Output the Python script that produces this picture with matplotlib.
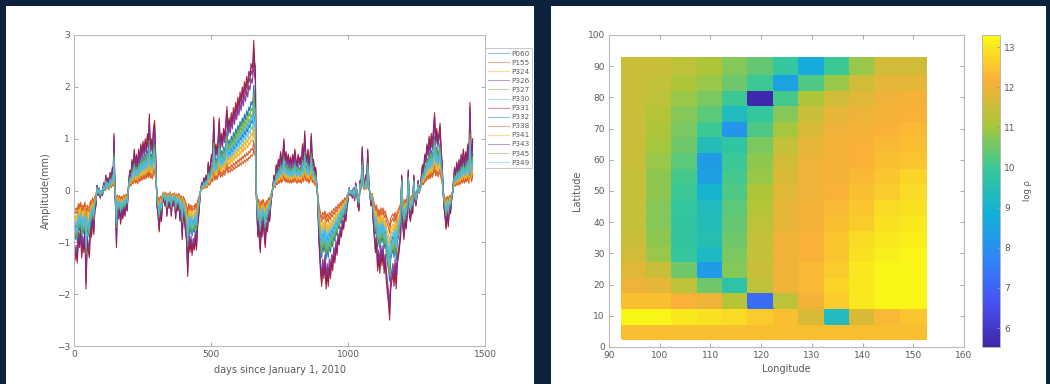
import numpy as np
import matplotlib
matplotlib.use("Agg")
import matplotlib.pyplot as plt
from matplotlib.colors import LinearSegmentedColormap
from matplotlib.patches import Rectangle

# ---------------- data: left panel ----------------
stations = ["P060", "P155", "P324", "P326", "P327", "P330", "P331",
            "P332", "P338", "P341", "P343", "P345", "P349"]
# relative amplitude of each station w.r.t. the largest one (read from the fan spread)
station_gain = [0.55, 0.28, 0.45, 0.95, 0.60, 0.50, 1.00,
                0.70, 0.33, 0.40, 0.88, 0.65, 0.58]

days = [0, 4, 8, 12, 16, 20, 24, 28, 32, 36, 40, 44, 48, 52, 56, 60, 64, 68, 72, 76, 80,
        84, 88, 92, 96, 100, 104, 108, 112, 116, 120, 124, 128, 132, 136, 140, 143, 146, 149,
        152, 155, 158, 162, 166, 170, 174, 178, 182, 186, 190, 194, 197,
        200, 204, 208, 212, 216, 220, 224, 228, 232, 236, 240, 244, 248, 252, 256, 260, 264,
        268, 272, 275, 278, 282, 286, 290, 294, 297, 300,
        303, 307, 311, 315, 319, 323, 327, 331, 335, 339, 343, 347, 351, 355, 359, 363, 367,
        371, 375, 379, 383, 387, 391, 395, 399, 403, 407, 411, 415, 419, 423, 427, 431, 435,
        439, 443, 447, 451, 455, 459,
        462, 466, 470, 474, 478, 482, 486, 490, 494, 498, 502, 506, 510, 514, 518, 522, 526,
        530, 534, 538, 542, 546, 550, 554, 558, 562, 566, 570, 574, 578, 582, 586, 590, 594,
        598, 602, 606, 610, 614, 618, 622, 626, 630, 634, 638, 642, 646, 650, 653, 656, 659, 662,
        665, 668, 671, 674, 677, 680, 683, 686, 690, 694, 698, 702, 706, 710, 714, 718, 722,
        726, 730, 734, 738, 742, 746, 750, 754, 758, 762, 766, 770, 774, 778, 782, 786, 790,
        794, 798, 802, 806, 810, 814, 818, 822, 826, 830, 834, 838, 842, 846, 850, 854, 858,
        862, 866, 870, 874, 878, 882, 885, 888,
        891, 894, 897, 900, 904, 908, 912, 916, 920, 924, 928, 932, 936, 940, 944, 948, 952,
        956, 960, 964, 968, 972, 976, 980, 984, 988, 992, 996, 1000,
        1004, 1008, 1012, 1016, 1020, 1024, 1028, 1032, 1036, 1040, 1044, 1048, 1052, 1056,
        1060, 1064, 1068, 1072, 1076, 1080, 1084, 1088,
        1092, 1096, 1100, 1104, 1108, 1112, 1116, 1120, 1124, 1128, 1132, 1136, 1140, 1144,
        1148, 1152, 1156, 1160, 1164, 1168, 1172, 1176, 1180, 1184, 1188, 1192, 1196, 1200,
        1204, 1208, 1212, 1216, 1220, 1224, 1228, 1232, 1236, 1240, 1244, 1248, 1252, 1256,
        1260, 1264,
        1268, 1272, 1276, 1280, 1284, 1288, 1292, 1296, 1300, 1304, 1308, 1312, 1316, 1320,
        1324, 1328, 1332, 1336, 1340, 1344,
        1347, 1350, 1354, 1358, 1362, 1366, 1370, 1374, 1378, 1382,
        1385, 1389, 1393, 1397, 1401, 1405, 1409, 1413, 1417, 1421, 1425, 1429, 1433, 1437,
        1441, 1445, 1448, 1451, 1455]

amplitude_max = [-1.1, -1.35, -1.2, -1.4, -0.9, -1.1, -0.8, -1.3, -1.0, -1.2, -0.8, -1.9, -1.0,
                 -1.15, -1.3, -0.7, -0.9, -0.5, -0.85, -0.4, -0.3,
                 0.1, -0.1, 0.05, -0.15, 0.0, -0.1, 0.15, 0.0, 0.3, 0.1, 0.25, 0.05, 0.35, 0.2,
                 0.45, 0.3, 1.1, 0.1,
                 -0.4, -1.1, -0.3, -0.55, -0.35, -0.65, -0.4, -0.55, -0.3, -0.5, -0.25, -0.4, -0.1,
                 0.2, 0.4, 0.3, 0.6, 0.45, 0.8, 0.5, 0.7, 0.45, 0.8, 0.6, 0.9, 0.7, 0.95, 0.75,
                 1.0, 0.8, 1.1, 0.9, 1.48, 0.85, 1.0, 0.8, 1.2, 1.35, 0.9, 0.3,
                 -0.3, -0.5, -0.8, -0.4, -0.6, -0.25, -0.1, -0.3, -0.15, -0.5, -0.2, -0.35, -0.1,
                 -0.5, -0.2, -0.3, -0.15, -0.55, -0.25, -0.4, -0.2, -0.6, -0.35, -0.95, -0.4, -0.6,
                 -0.8, -1.0, -1.66, -0.9, -1.2, -1.0, -1.25, -1.05, -1.15, -0.9, -1.15, -0.7,
                 -0.5, -0.2,
                 0.0, 0.15, 0.1, 0.25, 0.15, 0.3, 0.2, 0.55, 0.35, 0.5, 0.7, 0.6, 1.42, 0.7, 0.9,
                 0.75, 1.0, 1.4, 0.9, 1.1, 0.95, 1.2, 1.05, 1.3, 1.62, 1.2, 1.4, 1.25, 1.5, 1.35,
                 1.6, 1.45, 1.7, 1.55, 1.8, 1.65, 1.9, 1.75, 2.0, 1.85, 2.1, 1.95, 2.2, 2.05, 2.3,
                 2.2, 2.45, 2.35, 2.5, 2.9, 2.5, 2.4,
                 0.0, -0.5, -0.9, -0.6, -1.0, -1.2, -0.7, -0.9, -0.6, -0.85, -1.1, -0.7, -0.8,
                 -0.5, -0.6, -0.3, -0.1,
                 0.1, 0.3, 0.2, 0.5, 0.4, 0.6, 0.5, 0.75, 0.55, 0.7, 1.0, 0.6, 0.75, 0.55, 0.7,
                 0.5, 0.65, 0.5, 0.7, 0.55, 0.8, 0.6, 0.5, 0.7, 0.55, 0.65, 0.5, 0.9, 0.6, 1.15,
                 0.7, 0.6, 0.8, 0.5, 0.7, 1.1, 0.55, 0.6, 0.4, 0.45, 0.2, 0.0,
                 -0.5, -1.0, -1.3, -1.6, -1.85, -1.5, -1.7, -1.4, -1.9, -1.6, -1.85, -1.5, -1.7,
                 -1.4, -1.55, -1.25, -1.4, -1.1, -1.25, -0.95, -1.05, -0.8, -0.9, -0.65, -0.75,
                 -0.5, -0.6, -0.35, -0.2,
                 0.05, -0.1, 0.0, -0.15, 0.05, -0.2, 0.15, 0.0, -0.3, -0.4, 0.2, 0.1, 0.85, 0.2,
                 0.05, 0.3, 0.1, 0.8, 0.15, -0.1, -0.3, -0.2,
                 -0.6, -0.9, -1.2, -1.0, -1.55, -1.3, -1.6, -1.2, -1.45, -1.2, -1.6, -1.4, -1.75,
                 -2.0, -2.2, -2.5, -1.9, -1.75, -1.6, -1.85, -1.5, -1.9, -1.4, -1.3, -1.1, -0.9,
                 0.3, -0.7, -0.95, -0.6, -0.75, -0.5, 0.4, -0.5, -0.6, -0.35, -0.45, 0.3, -0.2,
                 -0.3, -0.1, 0.2, -0.05, 0.1,
                 0.3, 0.5, 0.4, 0.7, 0.6, 0.9, 0.75, 1.05, 0.8, 1.1, 0.9, 1.2, 1.5, 1.0, 1.2,
                 0.95, 1.1, 1.3, 0.8, 0.5,
                 0.0, -0.3, -0.5, -0.75, -0.4, -0.7, -0.35, -0.45, -0.2, -0.05,
                 0.2, 0.45, 0.3, 0.55, 0.35, 0.6, 0.4, 0.7, 0.5, 0.8, 0.5, 0.75, 0.6, 0.9, 0.5,
                 1.7, 1.0, 0.6, 1.0]

matlab_colors = ["#0072BD", "#D95319", "#EDB120", "#7E2F8E", "#77AC30", "#4DBEEE", "#A2142F"]

# ---------------- data: right panel ----------------
lon = [95, 100, 105, 110, 115, 120, 125, 130, 135, 140, 145, 150]
lat = [5, 10, 15, 20, 25, 30, 35, 40, 45, 50, 55, 60, 65, 70, 75, 80, 85, 90]
log_rho = [
    [12.4, 12.4, 12.4, 12.4, 12.4, 12.4, 12.4, 12.4, 12.4, 12.4, 12.4, 12.4],   # 5
    [13.2, 13.2, 13.0, 12.9, 12.8, 12.6, 12.4, 11.7, 9.3, 11.7, 12.3, 12.5],    # 10
    [12.4, 12.4, 12.2, 12.0, 11.2, 7.2, 11.3, 12.1, 12.6, 13.0, 13.2, 13.2],    # 15
    [12.0, 11.9, 11.3, 10.5, 9.7, 11.3, 12.0, 12.3, 12.7, 13.0, 13.2, 13.2],    # 20
    [11.8, 11.5, 10.5, 8.3, 10.7, 11.5, 12.0, 12.3, 12.6, 13.0, 13.2, 13.2],    # 25
    [11.6, 10.9, 9.9, 9.2, 10.6, 11.4, 12.0, 12.2, 12.5, 12.9, 13.1, 13.2],     # 30
    [11.5, 10.8, 9.8, 9.5, 10.5, 11.4, 12.0, 12.2, 12.5, 12.8, 13.0, 13.1],     # 35
    [11.4, 10.7, 9.8, 9.4, 10.4, 11.3, 11.9, 12.1, 12.4, 12.6, 12.9, 13.0],     # 40
    [11.4, 10.7, 9.9, 9.3, 10.3, 11.2, 11.9, 12.1, 12.3, 12.5, 12.8, 12.9],     # 45
    [11.4, 10.8, 10.0, 9.0, 10.2, 11.1, 11.8, 12.0, 12.2, 12.4, 12.6, 12.8],    # 50
    [11.4, 10.8, 10.1, 8.4, 10.1, 10.9, 11.7, 12.0, 12.1, 12.3, 12.5, 12.7],    # 55
    [11.5, 10.9, 10.3, 8.3, 10.0, 10.8, 11.6, 12.0, 12.1, 12.2, 12.4, 12.5],    # 60
    [11.5, 11.0, 10.5, 9.4, 9.8, 10.6, 11.4, 11.9, 12.1, 12.2, 12.3, 12.4],     # 65
    [11.5, 11.1, 10.6, 10.0, 8.1, 10.2, 11.0, 11.7, 12.0, 12.1, 12.2, 12.3],    # 70
    [11.5, 11.2, 10.7, 10.3, 9.3, 9.9, 10.7, 11.5, 11.9, 12.0, 12.1, 12.2],     # 75
    [11.5, 11.3, 10.9, 10.6, 10.0, 5.6, 10.1, 11.1, 11.6, 11.8, 12.0, 12.1],    # 80
    [11.5, 11.4, 11.1, 10.9, 10.5, 10.0, 8.5, 10.2, 10.9, 11.6, 11.9, 11.9],    # 85
    [11.5, 11.5, 11.3, 11.1, 10.7, 10.4, 9.9, 8.7, 10.0, 10.9, 11.6, 11.6],     # 90
]
cbar_ticks = [6, 7, 8, 9, 10, 11, 12, 13]

parula_anchors = [(0.2422, 0.1504, 0.6603), (0.2810, 0.3228, 0.9579),
                  (0.1786, 0.5289, 0.9682), (0.0689, 0.6948, 0.8394),
                  (0.2161, 0.7843, 0.5923), (0.6720, 0.7793, 0.2227),
                  (0.9800, 0.6900, 0.2200), (0.9769, 0.9839, 0.0805)]
parula = LinearSegmentedColormap.from_list("parula", parula_anchors, N=256)

# ---------------- figure ----------------
W, H = 1050, 384
fig = plt.figure(figsize=(W / 100, H / 100), dpi=100)
fig.patch.set_facecolor("#0c223d")

def fx(px):
    return px / W

def fy(py):
    return 1 - py / H

# white panels (behind everything)
fig.patches.append(Rectangle((fx(6), 0), fx(534) - fx(6), fy(6), transform=fig.transFigure,
                             facecolor="white", edgecolor="none", zorder=-10))
fig.patches.append(Rectangle((fx(551), 0), fx(1046) - fx(551), fy(6), transform=fig.transFigure,
                             facecolor="white", edgecolor="none", zorder=-10))

tick_color = "#5a5a5a"
edge_color = "#b8b8b8"

def style_axes(ax):
    for s in ax.spines.values():
        s.set_color(edge_color)
        s.set_linewidth(0.8)
    ax.tick_params(direction="in", top=True, right=True, length=3, width=0.6,
                   color="#9a9a9a", labelcolor=tick_color, labelsize=6.5, pad=3)

# left axes
axL = fig.add_axes([fx(74), fy(346), fx(485) - fx(74), fy(35) - fy(346)], zorder=2)
base = np.array(amplitude_max)
d = np.array(days)
lines = []
for i, (name, g) in enumerate(zip(stations, station_gain)):
    ln, = axL.plot(d, base * g, color=matlab_colors[i % 7], lw=0.8, alpha=0.9, label=name)
    lines.append(ln)
axL.set_xlim(0, 1500)
axL.set_ylim(-3, 3)
axL.set_xticks([0, 500, 1000, 1500])
axL.set_yticks([-3, -2, -1, 0, 1, 2, 3])
style_axes(axL)
axL.set_xlabel("days since January 1, 2010", fontsize=7, color=tick_color, labelpad=4)
axL.set_ylabel("Amplitude(mm)", fontsize=7, color=tick_color, labelpad=4)

leg = fig.legend(handles=lines, loc="upper left", bbox_to_anchor=(fx(485), fy(48)),
                 fontsize=5.2, frameon=True, fancybox=False, borderpad=0.35,
                 labelspacing=0.42, handlelength=3.0, handletextpad=0.3, borderaxespad=0)
leg.set_zorder(5)
leg.get_frame().set_edgecolor(edge_color)
leg.get_frame().set_linewidth(0.7)
for t in leg.get_texts():
    t.set_color(tick_color)
for lh in leg.get_lines():
    lh.set_alpha(0.45)

# right axes
axR = fig.add_axes([fx(609), fy(347), fx(964) - fx(609), fy(35) - fy(347)], zorder=2)
Z = np.array(log_rho)
mesh = axR.pcolormesh(np.array(lon), np.array(lat), Z, cmap=parula, vmin=5.53, vmax=13.3,
                      shading="nearest", edgecolors="face", linewidth=0.3)
axR.set_xlim(90, 160)
axR.set_ylim(0, 100)
axR.set_xticks(range(90, 161, 10))
axR.set_yticks(range(0, 101, 10))
style_axes(axR)
axR.set_xlabel("Longitude", fontsize=7, color=tick_color, labelpad=3)
axR.set_ylabel("Latitude", fontsize=7, color=tick_color, labelpad=4)

cax = fig.add_axes([fx(982), fy(347), fx(1000) - fx(982), fy(35) - fy(347)], zorder=2)
cb = fig.colorbar(mesh, cax=cax, ticks=cbar_ticks)
cb.outline.set_edgecolor(edge_color)
cb.outline.set_linewidth(0.7)
cax.tick_params(direction="in", length=2.5, width=0.6, color="#9a9a9a",
                labelcolor=tick_color, labelsize=6.5, pad=3)
cb.set_label("log ρ", fontsize=6, color=tick_color, labelpad=5)

fig.savefig("out.png", dpi=100, facecolor=fig.get_facecolor())
